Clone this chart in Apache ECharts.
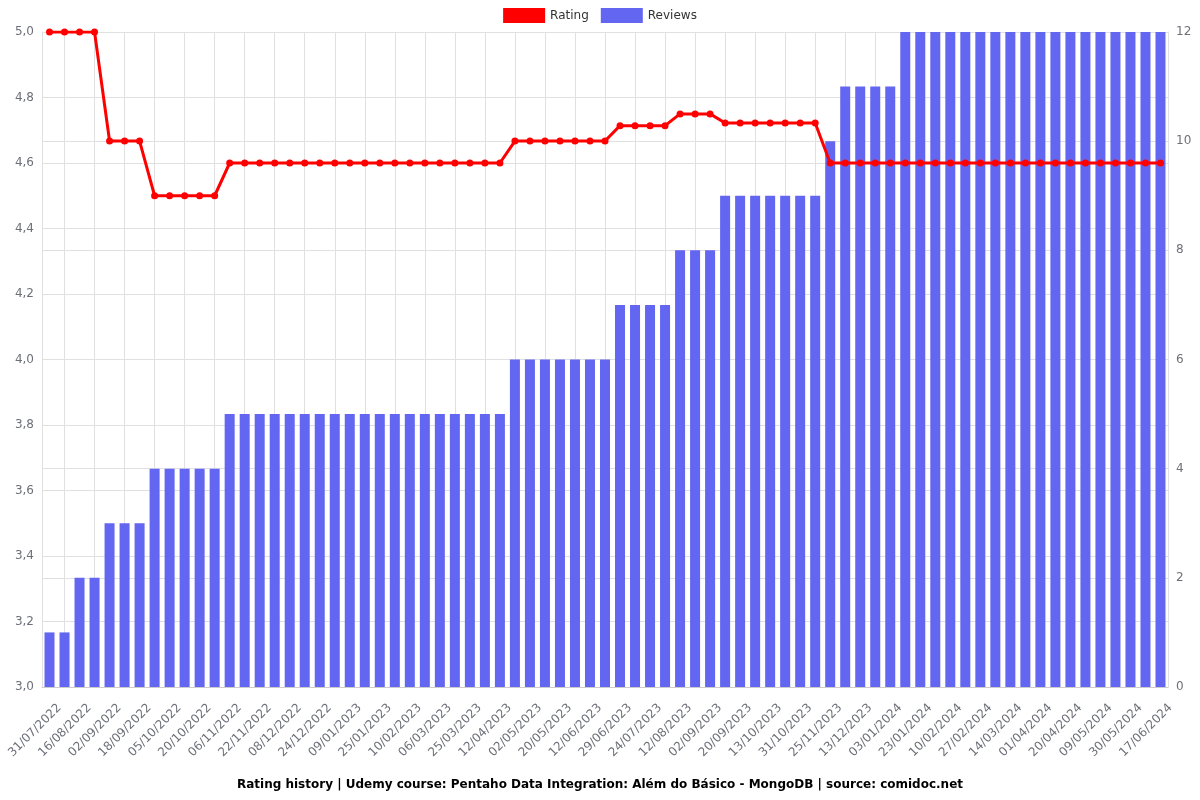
<!DOCTYPE html>
<html>
<head>
<meta charset="utf-8">
<script src="https://cdn.jsdelivr.net/npm/echarts@6/dist/echarts.min.js"></script>
<style>html,body{margin:0;padding:0;background:#fff}#c{width:1200px;height:800px}</style>
</head>
<body>
<div id="c"></div>
<script>
const categories = [
'31/07/2022','08/08/2022','16/08/2022','24/08/2022','02/09/2022','10/09/2022','18/09/2022','26/09/2022','05/10/2022','13/10/2022',
'20/10/2022','28/10/2022','06/11/2022','14/11/2022','22/11/2022','30/11/2022','08/12/2022','16/12/2022','24/12/2022','01/01/2023',
'09/01/2023','17/01/2023','25/01/2023','02/02/2023','10/02/2023','22/02/2023','06/03/2023','15/03/2023','25/03/2023','03/04/2023',
'12/04/2023','22/04/2023','02/05/2023','11/05/2023','20/05/2023','01/06/2023','12/06/2023','20/06/2023','29/06/2023','11/07/2023',
'24/07/2023','02/08/2023','12/08/2023','22/08/2023','02/09/2023','11/09/2023','20/09/2023','01/10/2023','13/10/2023','22/10/2023',
'31/10/2023','12/11/2023','25/11/2023','04/12/2023','13/12/2023','23/12/2023','03/01/2024','13/01/2024','23/01/2024','01/02/2024',
'10/02/2024','18/02/2024','27/02/2024','06/03/2024','14/03/2024','23/03/2024','01/04/2024','10/04/2024','20/04/2024','29/04/2024',
'09/05/2024','19/05/2024','30/05/2024','08/06/2024','17/06/2024'
];
const ratingValues = [
5,5,5,5,4.667,4.667,4.667,4.5,4.5,4.5,
4.5,4.5,4.6,4.6,4.6,4.6,4.6,4.6,4.6,4.6,
4.6,4.6,4.6,4.6,4.6,4.6,4.6,4.6,4.6,4.6,
4.6,4.667,4.667,4.667,4.667,4.667,4.667,4.667,4.714,4.714,
4.714,4.714,4.75,4.75,4.75,4.722,4.722,4.722,4.722,4.722,
4.722,4.722,4.6,4.6,4.6,4.6,4.6,4.6,4.6,4.6,
4.6,4.6,4.6,4.6,4.6,4.6,4.6,4.6,4.6,4.6,
4.6,4.6,4.6,4.6,4.6
];
const reviewValues = [
1,1,2,2,3,3,3,4,4,4,
4,4,5,5,5,5,5,5,5,5,
5,5,5,5,5,5,5,5,5,5,
5,6,6,6,6,6,6,6,7,7,
7,7,8,8,8,9,9,9,9,9,
9,9,10,11,11,11,11,12,12,12,
12,12,12,12,12,12,12,12,12,12,
12,12,12,12,12
];
const titleText = 'Rating history | Udemy course: Pentaho Data Integration: Além do Básico - MongoDB | source: comidoc.net';

const chart = echarts.init(document.getElementById('c'), null, {renderer: 'canvas'});
const gridColor = '#e0e0e0';
const labelColor = '#6e7079';
const font = 'DejaVu Sans';
chart.setOption({
  animation: false,
  backgroundColor: '#fff',
  textStyle: {fontFamily: font},
  title: {
    text: titleText, left: 'center', top: 774,
    textStyle: {fontSize: 12, fontWeight: 'bold', color: '#000', fontFamily: font}
  },
  legend: {
    top: 3, left: 'center', itemWidth: 42, itemHeight: 15, itemGap: 12,
    textStyle: {fontSize: 12, color: '#333', fontFamily: font},
    data: [{name: 'Rating', icon: 'rect'}, {name: 'Reviews', icon: 'rect'}]
  },
  grid: {left: 42, right: 32, top: 32, bottom: 113, containLabel: false, outerBoundsMode: 'none'},
  xAxis: {
    type: 'category',
    data: categories,
    boundaryGap: true,
    axisLine: {lineStyle: {color: '#ccc'}},
    axisTick: {alignWithLabel: true, interval: (i) => i % 2 === 1, length: 5, lineStyle: {color: '#ccc'}},
    axisLabel: {
      rotate: 45, interval: (i) => i % 2 === 0, color: labelColor, fontSize: 12, fontFamily: font,
      margin: 9, verticalAlign: 'top', padding: [8, 0, 0, 0]
    },
    splitLine: {show: true, alignWithLabel: true, interval: (i) => i % 2 === 1, lineStyle: {color: gridColor}}
  },
  yAxis: [
    {
      type: 'value', min: 3, max: 5, interval: 0.2, position: 'left',
      axisLine: {show: true, lineStyle: {color: gridColor}},
      axisTick: {show: false},
      axisLabel: {color: labelColor, fontSize: 12, fontFamily: font, formatter: (v) => v.toFixed(1).replace('.', ',')},
      splitLine: {show: true, lineStyle: {color: gridColor}}
    },
    {
      type: 'value', min: 0, max: 12, interval: 2, position: 'right',
      axisLine: {show: true, lineStyle: {color: gridColor}},
      axisTick: {show: false},
      axisLabel: {color: labelColor, fontSize: 12, fontFamily: font},
      splitLine: {show: true, lineStyle: {color: gridColor}}
    }
  ],
  series: [
    {
      name: 'Reviews', type: 'bar', yAxisIndex: 1, data: reviewValues,
      barWidth: 10,
      itemStyle: {color: '#6366f1'},
      z: 1
    },
    {
      name: 'Rating', type: 'line', yAxisIndex: 0, data: ratingValues,
      symbol: 'circle', symbolSize: 7,
      lineStyle: {color: '#ff0000', width: 3},
      itemStyle: {color: '#ff0000'},
      z: 3
    }
  ]
});
</script>
</body>
</html>
